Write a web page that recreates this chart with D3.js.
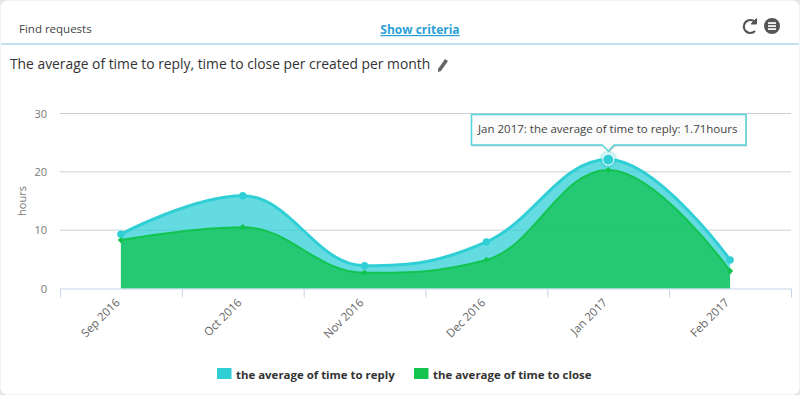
<!DOCTYPE html>
<html>
<head>
<meta charset="utf-8">
<script src="https://cdnjs.cloudflare.com/ajax/libs/d3/7.8.5/d3.min.js"></script>
<style>
html, body { margin: 0; padding: 0; background: #fff; }
svg { display: block; font-family: "Open Sans", sans-serif; }
</style>
</head>
<body>
<div id="chart"></div>
<script>
const categories = ["Sep 2016", "Oct 2016", "Nov 2016", "Dec 2016", "Jan 2017", "Feb 2017"];
const replyValues = [9.3, 15.9, 3.9, 8.0, 22.1, 4.9];
const closeValues = [8.3, 10.5, 2.7, 4.9, 20.3, 3.0];
const yTicks = [0, 10, 20, 30];
const seriesNames = ["the average of time to reply", "the average of time to close"];

const width = 800, height = 395;
const margin = {top: 113.5, right: 9, bottom: 106.5, left: 60};
const innerW = width - margin.left - margin.right;
const innerH = height - margin.top - margin.bottom;

// spline with the smoothing the original chart lib uses
function splineCurve(context) {
    let pts, started = false;
    return {
        areaStart() { started = true; this.first = true; },
        areaEnd() { context.closePath(); started = false; },
        lineStart() { pts = []; },
        point(x, y) { pts.push([+x, +y]); },
        lineEnd() {
            if (started && !this.first) context.lineTo(pts[0][0], pts[0][1]);
            else context.moveTo(pts[0][0], pts[0][1]);
            this.first = false;
            const s = 1.5, d = 2.5;
            const conts = pts.map((p, i) => {
                const prev = pts[i - 1], next = pts[i + 1];
                if (!prev || !next) return {l: p, r: p};
                const lx = (s * p[0] + prev[0]) / d, ly0 = (s * p[1] + prev[1]) / d;
                const rx = (s * p[0] + next[0]) / d, ry0 = (s * p[1] + next[1]) / d;
                let ly = ly0, ry = ry0;
                const corr = (ry - ly) * (rx - p[0]) / (rx - lx) + p[1] - ry;
                ly += corr; ry += corr;
                if (ly > prev[1] && ly > p[1]) { ly = Math.max(prev[1], p[1]); ry = 2 * p[1] - ly; }
                else if (ly < prev[1] && ly < p[1]) { ly = Math.min(prev[1], p[1]); ry = 2 * p[1] - ly; }
                if (ry > next[1] && ry > p[1]) { ry = Math.max(next[1], p[1]); ly = 2 * p[1] - ry; }
                else if (ry < next[1] && ry < p[1]) { ry = Math.min(next[1], p[1]); ly = 2 * p[1] - ry; }
                return {l: [lx, ly], r: [rx, ry]};
            });
            for (let i = 1; i < pts.length; i++) {
                context.bezierCurveTo(conts[i - 1].r[0], conts[i - 1].r[1], conts[i].l[0], conts[i].l[1], pts[i][0], pts[i][1]);
            }
        }
    };
}

let svg = d3.select("#chart").append("svg")
    .attr("width", width)
    .attr("height", height);

// card
svg.append("rect").attr("width", width).attr("height", height).attr("fill", "#e6e6e6");
svg.append("rect").attr("x", 0.5).attr("y", 0.5).attr("width", width - 1).attr("height", height - 1)
    .attr("rx", 7).attr("fill", "#fff");

// header
svg.append("text").attr("x", 19).attr("y", 32.5).attr("font-size", 11.5).attr("fill", "#444").text("Find requests");
svg.append("text").attr("x", 420).attr("y", 34).attr("text-anchor", "middle").attr("font-size", 12)
    .attr("font-weight", 700).attr("fill", "#2b9fd6").attr("text-decoration", "underline").text("Show criteria");
svg.append("line").attr("x1", 1).attr("x2", 799).attr("y1", 44).attr("y2", 44).attr("stroke", "#a9d9e9").attr("stroke-width", 1.5);
svg.append("text").attr("x", 10).attr("y", 69).attr("font-size", 13.85).attr("fill", "#333")
    .text("The average of time to reply, time to close per created per month");

// pencil icon
svg.append("path").attr("d", "M445 59l3 2-7 10-3 1 0-3z").attr("fill", "#666");

// refresh icon
svg.append("path").attr("d", "M755 22a6.5 6.5 0 1 0 0 9").attr("fill", "none").attr("stroke", "#555").attr("stroke-width", 2.2);
svg.append("path").attr("d", "M751 24l5.5 0 0-5.5z").attr("fill", "#555").attr("stroke", "#555").attr("stroke-width", 1);

// menu icon
svg.append("circle").attr("cx", 772).attr("cy", 26).attr("r", 8).attr("fill", "#555");
[-3, 0, 3].forEach(function(dy) {
    svg.append("rect").attr("x", 768).attr("y", 25.2 + dy).attr("width", 8).attr("height", 1.7).attr("fill", "#fff");
});

let g = svg.append("g").attr("transform", "translate(" + margin.left + "," + margin.top + ")");

let x = d3.scaleBand().domain(categories).range([0, innerW]);
let y = d3.scaleLinear().domain([0, 30]).range([innerH, 0]);
let cx = function(i) { return x(categories[i]) + x.bandwidth() / 2; };

// y axis and grid
let yAxis = g.append("g").call(d3.axisLeft(y).tickValues(yTicks).tickSize(0).tickPadding(13));
yAxis.select(".domain").remove();
yAxis.selectAll("text").attr("font-size", 11).attr("fill", "#777").attr("font-family", "'Open Sans', sans-serif");
g.append("g").selectAll("line").data(yTicks.slice(1)).enter().append("line")
    .attr("x1", 0).attr("x2", innerW)
    .attr("y1", function(d) { return y(d); }).attr("y2", function(d) { return y(d); })
    .attr("stroke", "#ccd0d4").attr("stroke-width", 1);

g.append("text")
    .attr("transform", "rotate(-90)")
    .attr("x", -(y(10) + y(20)) / 2)
    .attr("y", -34)
    .attr("text-anchor", "middle")
    .attr("font-size", 11).attr("fill", "#777")
    .text("hours");

// areas
let area = d3.area().curve(splineCurve)
    .x(function(d, i) { return cx(i); })
    .y0(innerH)
    .y1(function(d) { return y(d); });
let line = d3.line().curve(splineCurve)
    .x(function(d, i) { return cx(i); })
    .y(function(d) { return y(d); });

g.append("path").attr("d", area(replyValues)).attr("fill", "#2fcfd5").attr("fill-opacity", 0.75);
g.append("path").attr("d", line(replyValues)).attr("fill", "none").attr("stroke", "#2fcfd5").attr("stroke-width", 3);
g.append("path").attr("d", area(closeValues)).attr("fill", "#12c34f").attr("fill-opacity", 0.75);
g.append("path").attr("d", line(closeValues)).attr("fill", "none").attr("stroke", "#12c34f").attr("stroke-width", 2);

// markers
g.append("g").selectAll("circle").data(replyValues).enter().append("circle")
    .attr("cx", function(d, i) { return cx(i); })
    .attr("cy", function(d) { return y(d); })
    .attr("r", 3.7).attr("fill", "#2fcfd5");
g.append("g").selectAll("path").data(closeValues).enter().append("path")
    .attr("d", d3.symbol(d3.symbolSquare, 20))
    .attr("transform", function(d, i) { return "translate(" + cx(i) + "," + y(d) + ")rotate(45)"; })
    .attr("fill", "#12c34f");

// x axis
let xAxis = g.append("g").attr("transform", "translate(0," + innerH + ")")
    .call(d3.axisBottom(x).tickSize(0).tickPadding(12));
xAxis.select(".domain").remove();
xAxis.selectAll("text")
    .attr("font-size", 11.5).attr("fill", "#666").attr("font-family", "'Open Sans', sans-serif")
    .attr("text-anchor", "end")
    .attr("dy", "0.4em")
    .attr("transform", "translate(-12,3)rotate(-45)");
g.append("line").attr("x1", 0).attr("x2", innerW).attr("y1", innerH + 0.5).attr("y2", innerH + 0.5)
    .attr("stroke", "#c6d4e6").attr("stroke-width", 1);
g.append("g").selectAll("line").data(categories.concat(["end"])).enter().append("line")
    .attr("x1", function(d, i) { return i * x.bandwidth() + 0.5; })
    .attr("x2", function(d, i) { return i * x.bandwidth() + 0.5; })
    .attr("y1", innerH).attr("y2", innerH + 9)
    .attr("stroke", "#c6d4e6");

// hover state on Jan 2017
let hi = 4;
g.append("circle").attr("cx", cx(hi)).attr("cy", y(replyValues[hi])).attr("r", 9).attr("fill", "#2fcfd5").attr("fill-opacity", 0.25);
g.append("circle").attr("cx", cx(hi)).attr("cy", y(replyValues[hi])).attr("r", 5.5).attr("fill", "#2fcfd5").attr("stroke", "#fff").attr("stroke-width", 1);

// tooltip
let tipX = cx(hi) + margin.left, tipTop = 114.5, tipBottom = 145, tipL = 471.5, tipR = 746;
let tipPath = "M" + tipL + "," + tipTop + "H" + tipR + "V" + tipBottom + "H" + (tipX + 6) + "L" + tipX + "," + (tipBottom + 6) + "L" + (tipX - 6) + "," + tipBottom + "H" + tipL + "Z";
svg.append("path").attr("d", tipPath).attr("transform", "translate(1,1.5)").attr("fill", "#000").attr("fill-opacity", 0.18);
svg.append("path").attr("d", tipPath).attr("fill", "#fbfbfb").attr("stroke", "#55d3d7").attr("stroke-width", 1.5);
svg.append("text").attr("x", 478).attr("y", 133).attr("font-size", 11.5).attr("fill", "#444")
    .text("Jan 2017: the average of time to reply: 1.71hours");

// legend
let legendColors = ["#2fcfd5", "#12c34f"];
let legendX = [217, 414];
seriesNames.forEach(function(name, i) {
    svg.append("rect").attr("x", legendX[i]).attr("y", 368).attr("width", 14.5).attr("height", 11).attr("fill", legendColors[i]);
    svg.append("text").attr("x", legendX[i] + 19).attr("y", 378.5).attr("font-size", 11.45).attr("font-weight", 700).attr("fill", "#333").text(name);
});
</script>
</body>
</html>
